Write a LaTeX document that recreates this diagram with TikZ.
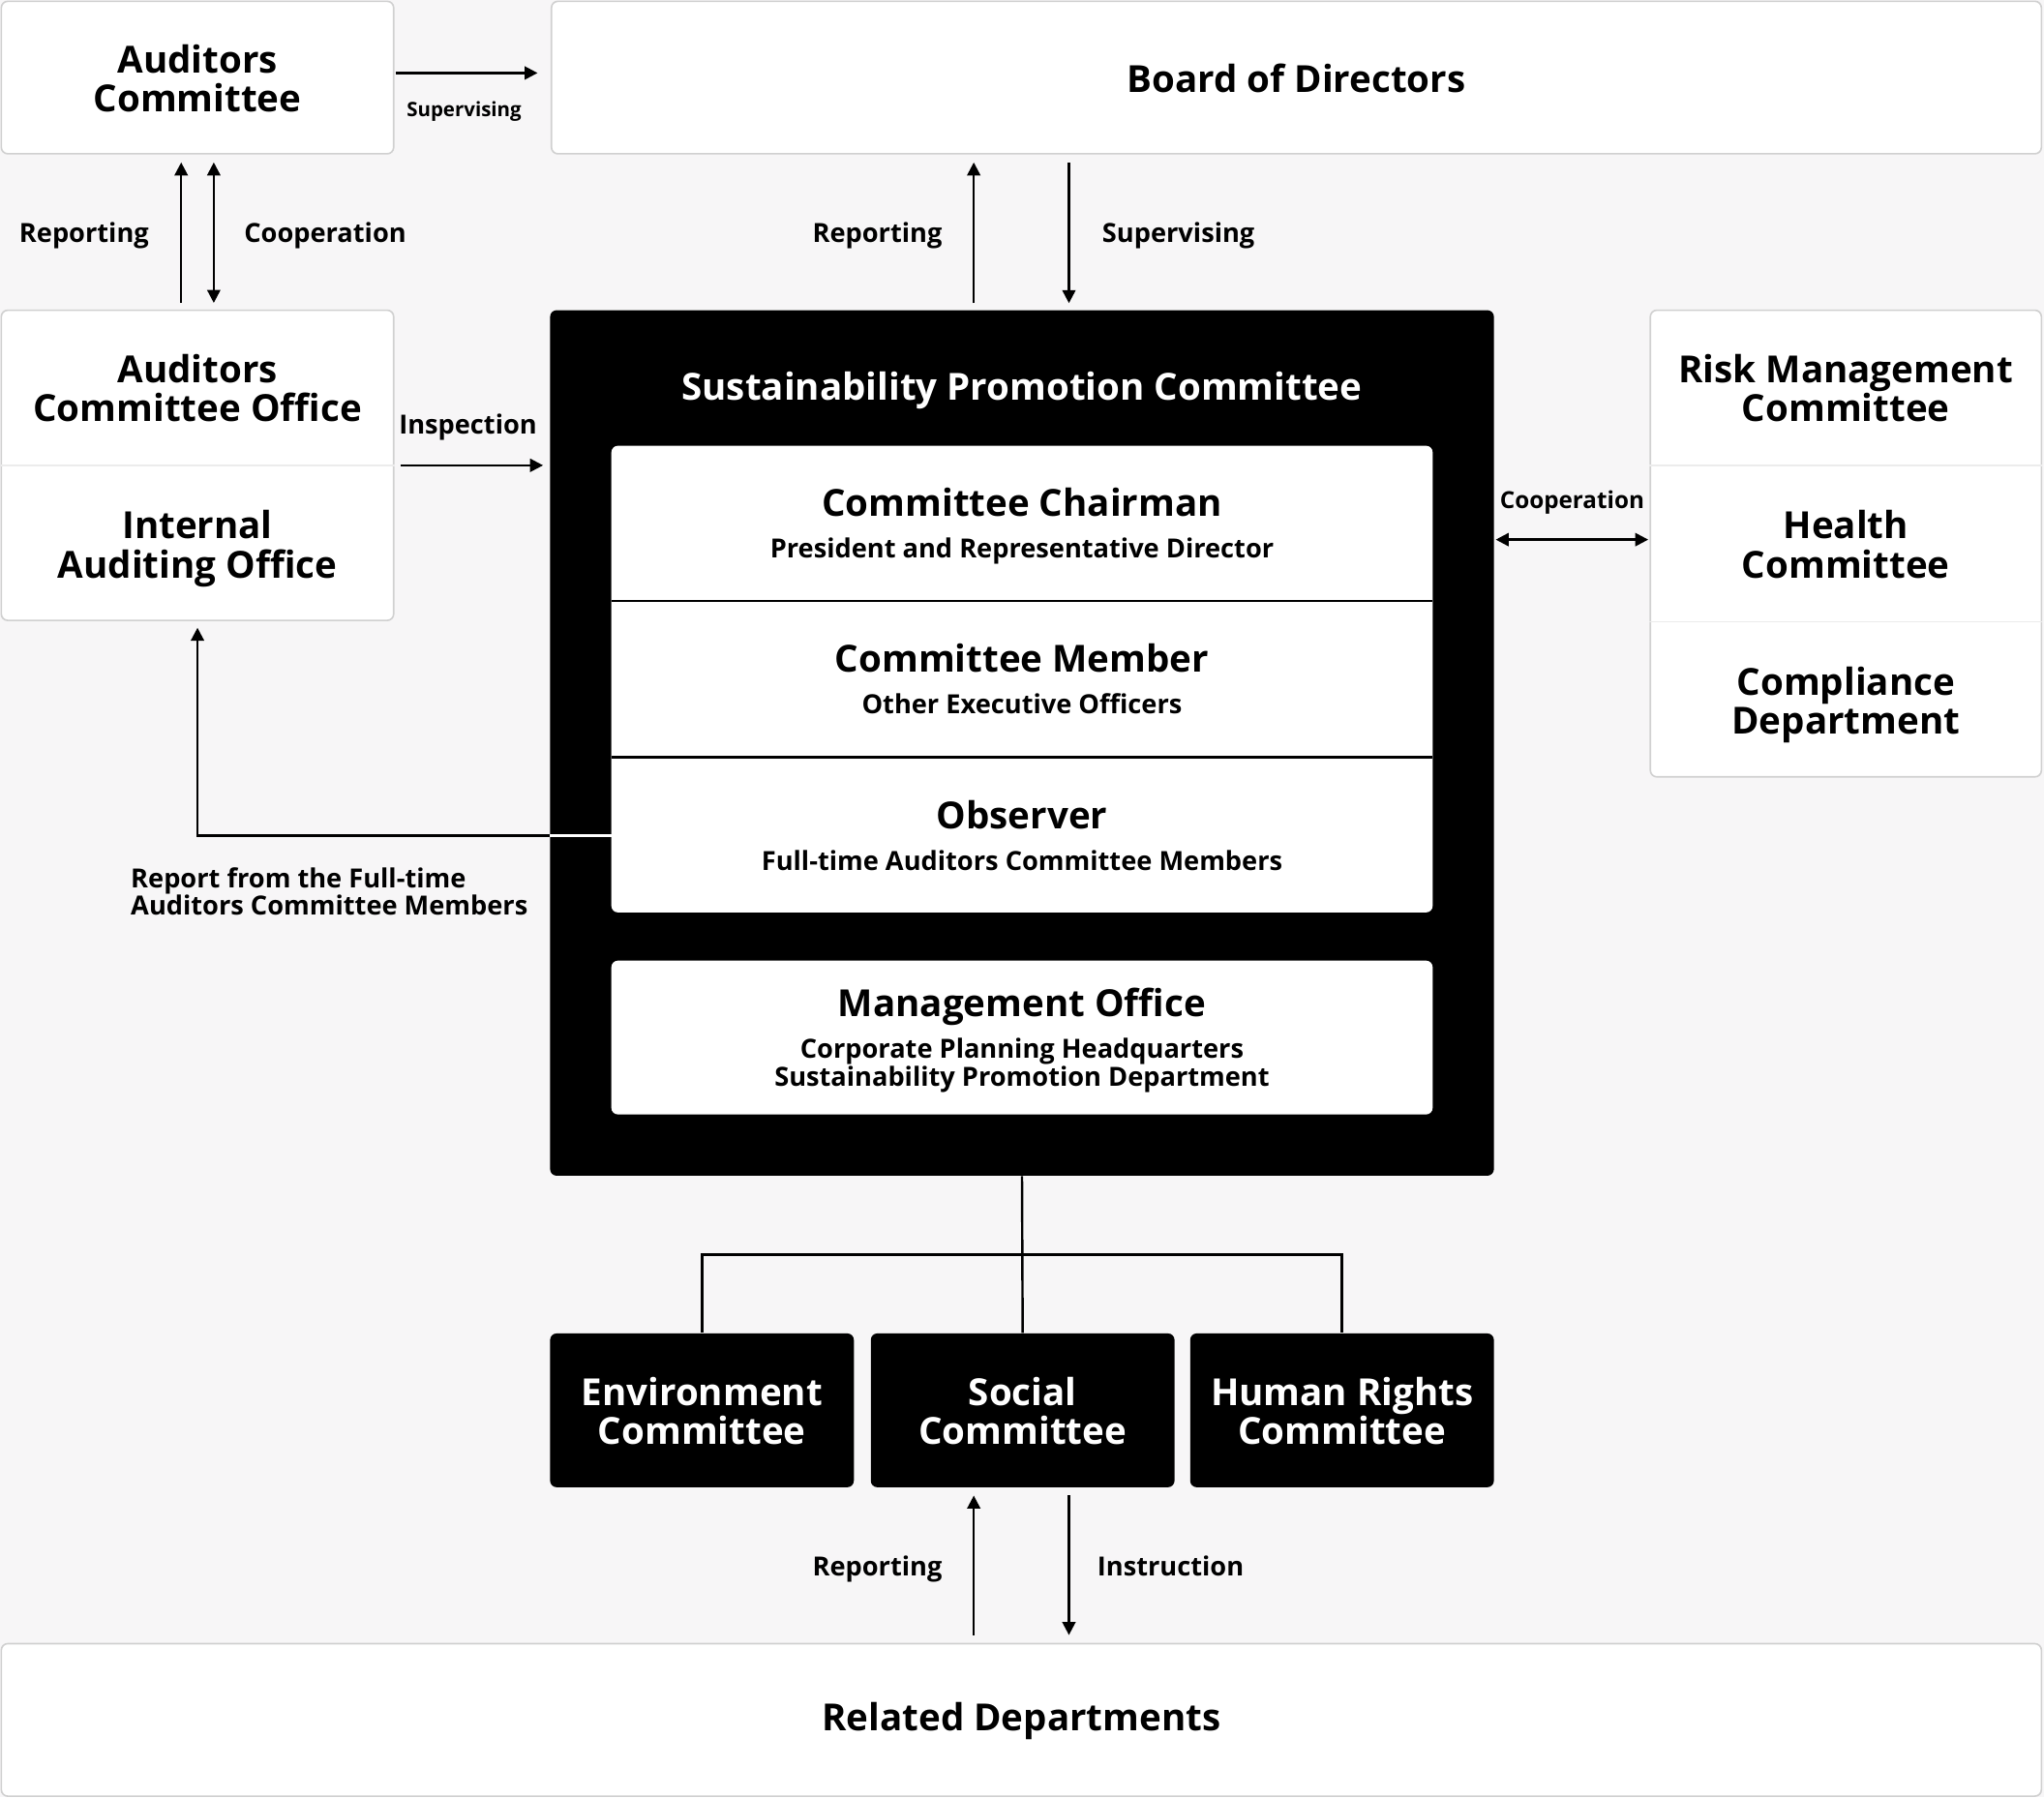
\documentclass[tikz,border=0pt]{standalone}
\usepackage{fontspec}
\IfFontExistsTF{Open Sans SemiBold}
  {\setmainfont{Open Sans}[BoldFont={Open Sans SemiBold}]}
  {\setmainfont{Open Sans}}
\usetikzlibrary{arrows.meta}
\definecolor{bg}{RGB}{247,246,247}
\definecolor{bd}{RGB}{208,208,208}
\definecolor{dv}{RGB}{236,236,236}
\tikzset{
  x=0.5pt, y=-0.5pt,
  wbox/.style={draw=bd, line width=0.6pt, fill=white, rounded corners=2.5pt, inner sep=0pt},
  kbox/.style={fill=black, rounded corners=2.5pt, inner sep=0pt},
  big/.style={font=\fontsize{14.3}{15}\selectfont\bfseries, align=center, inner sep=0pt, text depth=0pt},
  bigw/.style={big, text=white},
  sub/.style={font=\fontsize{10.1}{10.5}\selectfont\bfseries, align=center, inner sep=0pt, text depth=0pt},
  lbl/.style={font=\fontsize{10.1}{10.5}\selectfont\bfseries, inner sep=0pt, text depth=0pt},
  tiny/.style={font=\fontsize{7.6}{8}\selectfont\bfseries, inner sep=0pt, text depth=0pt},
  conn/.style={line width=0.9pt},
  arr/.style={conn, -{Triangle[length=5pt,width=5pt]}},
  darr/.style={conn, {Triangle[length=5pt,width=5pt]}-{Triangle[length=5pt,width=5pt]}},
}
\begin{document}
\begin{tikzpicture}
\fill[bg] (0,0) rectangle (1568,1379);
\useasboundingbox (0,0) rectangle (1568,1379);

% top row
\node[wbox, minimum width=150.5pt, minimum height=58.5pt] (ac) at (151.5,59.5) {};
\node[big] (actx) at (151.5,60) {Auditors\\Committee};
\node[wbox, minimum width=571.5pt, minimum height=58.5pt] (bod) at (994.5,59.5) {};
\node[big] (bodtx) at (994.5,60) {Board of Directors};

% left boxes
\node[wbox, minimum width=150.5pt, minimum height=119pt] (aud2) at (151.5,357) {};
\draw[dv, line width=0.6pt] (aud2.west) -- (aud2.east);
\node[big] (aco) at (151.5,297.5) {Auditors\\Committee Office};
\node[big] (iao) at (151.5,417.5) {Internal\\Auditing Office};

% right boxes
\node[wbox, minimum width=150pt, minimum height=179pt] (rb) at (1416,417) {};
\draw[dv, line width=0.6pt] ([yshift=30pt]rb.west) -- ([yshift=30pt]rb.east);
\draw[dv, line width=0.6pt] ([yshift=-30pt]rb.west) -- ([yshift=-30pt]rb.east);
\node[big] (rmc) at (1416,297.5) {Risk Management\\Committee};
\node[big] (hc) at (1416,417.5) {Health\\Committee};
\node[big] (cd) at (1416,537.5) {Compliance\\Department};

% central black box
\node[kbox, minimum width=362pt, minimum height=332pt] (spc) at (784,570) {};
\node[bigw] (spctx) at (784,296) {Sustainability Promotion Committee};
\node[fill=white, rounded corners=2.5pt, inner sep=0pt, minimum width=315pt, minimum height=179pt] (iw) at (784,521) {};
\draw[line width=0.9pt] (469,461) -- (1099,461);
\draw[line width=0.9pt] (469,581) -- (1099,581);
\node[big] (cc) at (784,385) {Committee Chairman};
\node[sub] (cctx) at (784,420) {President and Representative Director};
\node[big] (cm) at (784,505) {Committee Member};
\node[sub] (cmtx) at (784,540) {Other Executive Officers};
\node[big] (ob) at (784,625) {Observer};
\node[sub] (obtx) at (784,660) {Full-time Auditors Committee Members};
\coordinate (obw) at (469,641);
\node[fill=white, rounded corners=2.5pt, inner sep=0pt, minimum width=315pt, minimum height=59pt] (mo) at (784,796) {};
\node[big] (motx) at (784,769) {Management Office};
\node[sub] (motx2) at (784,815) {Corporate Planning Headquarters\\Sustainability Promotion Department};

% bottom committees
\node[kbox, minimum width=116.5pt, minimum height=59pt] (env) at (538.5,1082) {};
\node[bigw] (envtx) at (538.5,1082.5) {Environment\\Committee};
\node[kbox, minimum width=116.5pt, minimum height=59pt] (soc) at (784.5,1082) {};
\node[bigw] (soctx) at (784.5,1082.5) {Social\\Committee};
\node[kbox, minimum width=116.5pt, minimum height=59pt] (hr) at (1029.5,1082) {};
\node[bigw] (hrtx) at (1029.5,1082.5) {Human Rights\\Committee};

\node[wbox, minimum width=782.5pt, minimum height=58.5pt] (rd) at (783.5,1319.5) {};
\node[big] (rdtx) at (783.5,1317) {Related Departments};

% connectors: top
\draw[arr, shorten <=0.5pt, shorten >=5pt] ([yshift=1.75pt]ac.east) -- ([yshift=1.75pt]ac.east -| bod.west);
\node[tiny] (lsup1) at (356,84) {Supervising};
\draw[arr, shorten <=2.5pt, shorten >=3pt] ([xshift=-6.25pt]aud2.north) -- ([xshift=-6.25pt]ac.south);
\draw[darr, shorten <=3pt, shorten >=2.5pt] ([xshift=6.25pt]ac.south) -- ([xshift=6.25pt]aud2.north);
\node[lbl] (lrep1) at (64.5,178) {Reporting};
\node[lbl] (lcoop1) at (249.5,178) {Cooperation};

\draw[arr, shorten <=2.5pt, shorten >=3pt] ([xshift=-18.5pt]spc.north) -- ([xshift=-18.5pt]spc.north |- bod.south);
\draw[arr, shorten <=3pt, shorten >=2.5pt] ([xshift=18pt]spc.north |- bod.south) -- ([xshift=18pt]spc.north);
\node[lbl] (lrep2) at (673,178) {Reporting};
\node[lbl] (lsup2) at (904,178) {Supervising};

\draw[arr, shorten <=2.5pt, shorten >=2.5pt] (aud2.east) -- (aud2.east -| spc.west);
\node[lbl] (linsp) at (359,325) {Inspection};

\draw[darr, shorten <=0.5pt, shorten >=0.5pt] ([yshift=1.5pt]rb.west -| spc.east) -- ([yshift=1.5pt]rb.west);
\node[lbl, font=\fontsize{9}{9.5}\selectfont\bfseries] (lcoop2) at (1206,383) {Cooperation};

% report from observer
\draw[arr, shorten >=2.5pt] (obw) -| (aud2.south);
\draw[white, line width=0.9pt] (obw) -- (obw -| spc.west);
\node[lbl, align=left, anchor=north west, font=\fontsize{10.1}{10.5}\selectfont\bfseries] (lrep3) at (100,665) {Report from the Full-time\\Auditors Committee Members};

% tree
\draw[conn] (spc.south) -- (soc.north);
\draw[conn] (env.north) -- ++(0,-60) -| (hr.north);

% bottom arrows
\draw[arr, shorten <=3pt, shorten >=3pt] ([xshift=-18.75pt]rd.north -| soc.south) -- ([xshift=-18.75pt]soc.south);
\draw[arr, shorten <=3pt, shorten >=3pt] ([xshift=17.75pt]soc.south) -- ([xshift=17.75pt]soc.south |- rd.north);
\node[lbl] (lrep4) at (673,1201) {Reporting};
\node[lbl] (linst) at (898,1201) {Instruction};
\end{tikzpicture}
\end{document}
